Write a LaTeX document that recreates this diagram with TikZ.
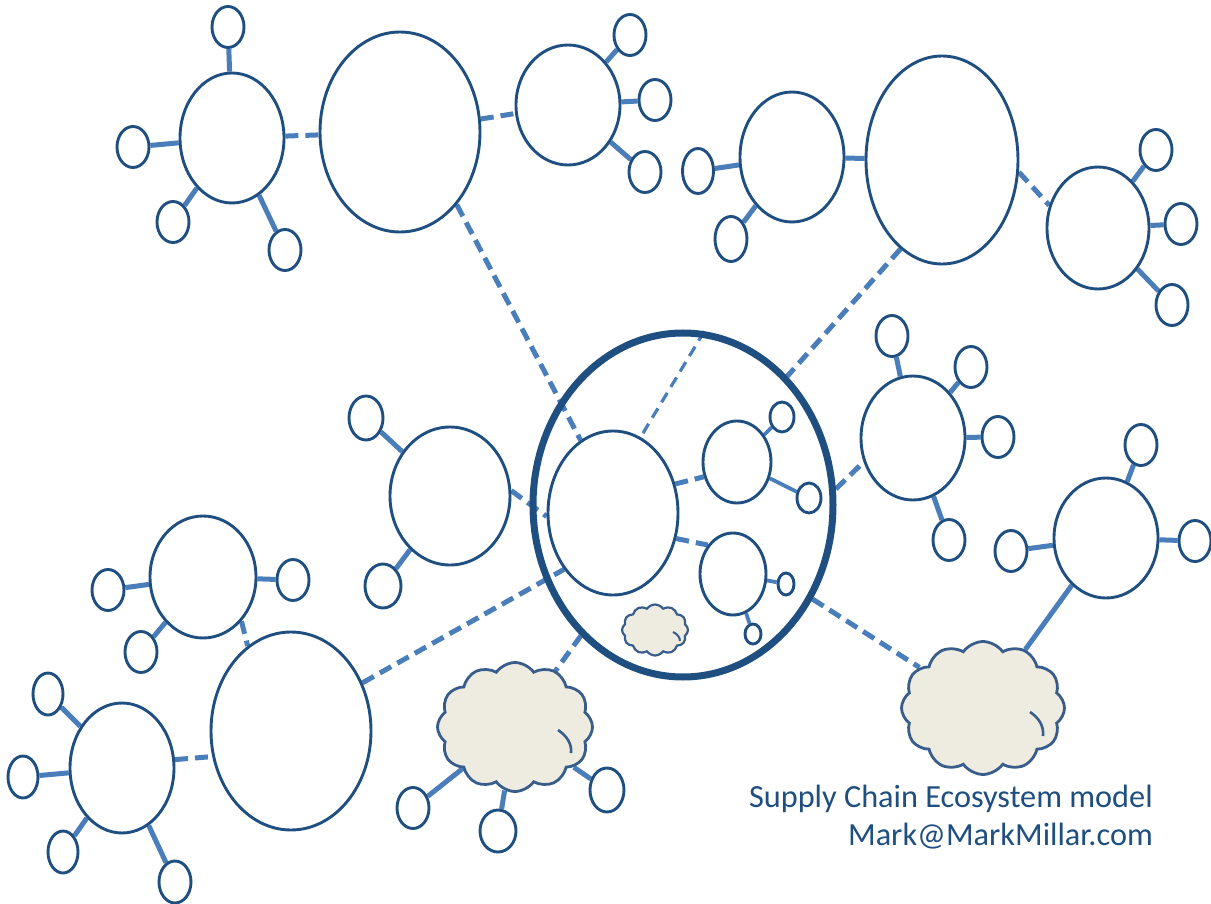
\documentclass[tikz,border=0pt]{standalone}
\usepackage{fontspec}
\setmainfont{Carlito}
\usetikzlibrary{shapes.geometric,shapes.symbols,backgrounds}
\definecolor{dblue}{RGB}{31,78,128}
\definecolor{lblue}{RGB}{74,126,187}
\definecolor{cloudfill}{RGB}{238,236,225}
\definecolor{cloudline}{RGB}{56,93,138}
\tikzset{
  ell/.style 2 args={ellipse, draw=dblue, line width=2.9pt, fill=white, inner sep=0pt, minimum width=#1pt, minimum height=#2pt},
  sat/.style={ell={32}{41}},
  puff/.style 2 args={cloud, cloud puffs=12, cloud puff arc=110, cloud ignores aspect, draw=cloudline, line width=2.8pt, fill=cloudfill, inner sep=0pt, minimum width=#1pt, minimum height=#2pt},
  inarc/.style={draw=cloudline, line width=2.6pt},
  link/.style={draw=lblue, line width=5pt},
  thinlink/.style={draw=lblue, line width=3.8pt},
  dlink/.style={link, dash pattern=on 13pt off 7pt},
  tdlink/.style={draw=lblue, line width=3.2pt, dash pattern=on 11pt off 7pt},
  caption/.style={font=\fontsize{32.3}{39}\selectfont, text=dblue, inner sep=0pt, anchor=base east}
}
\begin{document}
\begin{tikzpicture}[x=1pt,y=-1pt]
\useasboundingbox (0,0) rectangle (1211,904);
% top-left cluster
\node[ell={104}{130}] (A) at (232,138) {};
\node[sat] (a1) at (228,27) {};
\node[sat] (a2) at (133,147) {};
\node[sat] (a3) at (173,222) {};
\node[sat] (a4) at (285,250) {};
\node[ell={160}{200}] (B) at (400,132) {};
\node[ell={104}{120}] (P) at (568,105) {};
\node[sat] (p1) at (630,35) {};
\node[sat] (p2) at (655,100) {};
\node[sat] (p3) at (645,172) {};
% top-right cluster
\node[ell={104}{130}] (D) at (792,157) {};
\node[ell={31}{45}] (d1) at (698,171) {};
\node[ell={32}{45}] (d2) at (731,239) {};
\node[ell={152}{208}] (E) at (942,160) {};
\node[ell={102}{122}] (F) at (1098,228) {};
\node[sat] (f1) at (1156,150) {};
\node[sat] (f2) at (1181,224) {};
\node[sat] (f3) at (1172,305) {};
% middle-left
\node[ell={120}{138}] (G) at (450,496) {};
\node[ell={34}{44}] (g1) at (366,418) {};
\node[ell={36}{44}] (g2) at (383,586) {};
% central ecosystem
\node[ellipse, draw=dblue, line width=7pt, inner sep=0pt, minimum width=300pt, minimum height=344pt] (C) at (683,505) {};
\node[ell={130}{164}] (H) at (613,513) {};
\node[ell={68}{82}] (I) at (737,462) {};
\node[ell={24}{30}] (i1) at (782,417) {};
\node[ell={24}{30}] (i2) at (809,498) {};
\node[ell={66}{82}] (J) at (733,574) {};
\node[ell={16}{22}] (j1) at (786,584) {};
\node[ell={16}{20}] (j2) at (753,634) {};
\node[puff={66}{51}, line width=2.2pt] (cs) at (655,630) {};
\draw[inarc, line width=2pt] ([shift={(18,2)}]cs.center) .. controls ([shift={(22,4)}]cs.center) and ([shift={(25,7)}]cs.center) .. ([shift={(25,11)}]cs.center);
% right clusters
\node[ell={104}{124}] (L) at (913,438) {};
\node[sat] (l1) at (892,336) {};
\node[sat] (l2) at (971,367) {};
\node[sat] (l3) at (998,437) {};
\node[sat] (l4) at (949,540) {};
\node[ell={104}{120}] (O) at (1106,538) {};
\node[sat] (o1) at (1141,445) {};
\node[sat] (o2) at (1195,541) {};
\node[sat] (o3) at (1011,551) {};
\node[puff={163}{133}] (cR) at (983,708) {};
\draw[inarc] ([shift={(47,4)}]cR.center) .. controls ([shift={(56,10)}]cR.center) and ([shift={(61,18)}]cR.center) .. ([shift={(60,28)}]cR.center);
% lower-left clusters
\node[ell={106}{122}] (M) at (203,577) {};
\node[sat] (m1) at (108,590) {};
\node[sat] (m2) at (141,652) {};
\node[sat] (m3) at (293,580) {};
\node[ell={160}{198}] (K) at (291,731) {};
\node[ell={104}{130}] (N) at (122,768) {};
\node[ell={30}{42}] (n1) at (48,694) {};
\node[ell={30}{42}] (n2) at (23,777) {};
\node[ell={30}{42}] (n3) at (63,852) {};
\node[ell={32}{42}] (n4) at (175,882) {};
\node[puff={155}{129}] (cM) at (515,727) {};
\draw[inarc] ([shift={(43,3)}]cM.center) .. controls ([shift={(52,9)}]cM.center) and ([shift={(57,17)}]cM.center) .. ([shift={(56,26)}]cM.center);
\node[sat] (c1) at (413,808) {};
\node[ell={36}{42}] (c2) at (498,831) {};
\node[ell={34}{44}] (c3) at (607,790) {};
% caption
\node[caption] (t1) at (1153,807) {Supply Chain Ecosystem model};
\node[caption] (t2) at (1153,845) {Mark@MarkMillar.com};
\begin{scope}[on background layer]
  % solid spokes
  \foreach \h/\s in {A/a1,A/a2,A/a3,A/a4,P/p1,P/p2,P/p3,D/d1,D/d2,F/f1,F/f2,F/f3,G/g1,G/g2,L/l1,L/l2,L/l3,L/l4,O/o1,O/o2,O/o3,M/m1,M/m2,M/m3,N/n1,N/n2,N/n3,N/n4,cM/c1,cM/c2,cM/c3}
    \draw[link] (\h) -- (\s);
  \draw[link] (D) -- (E);
  \draw[link] (cR) -- (O);
  \foreach \h/\s in {I/i1,I/i2,J/j1,J/j2}
    \draw[thinlink] (\h) -- (\s);
  % dashed links
  \draw[dlink] (A) -- (B);
  \draw[dlink] (B) -- (P);
  \draw[dlink] (E.351) -- (F.155);
  \draw[dlink] (B.308) -- (H.114);
  \draw[dlink] (E.245) -- (C.51);
  \draw[tdlink] (C.83) -- (H.70);
  \draw[dlink] (K.34) -- (H.229);
  \draw[dlink] (G.5) -- (H.183);
  \draw[dlink] (H.25) -- (I.204);
  \draw[dlink] (H.338) -- (J.131);
  \draw[dlink] (C.6) -- (L.206);
  \draw[dlink] (C.324) -- (cR);
  \draw[dlink] (cM.center) -- (C.232);
  \draw[dlink] (M.311) -- (K.117);
  \draw[dlink] (N.9) -- (K.198);
\end{scope}
\end{tikzpicture}
\end{document}
